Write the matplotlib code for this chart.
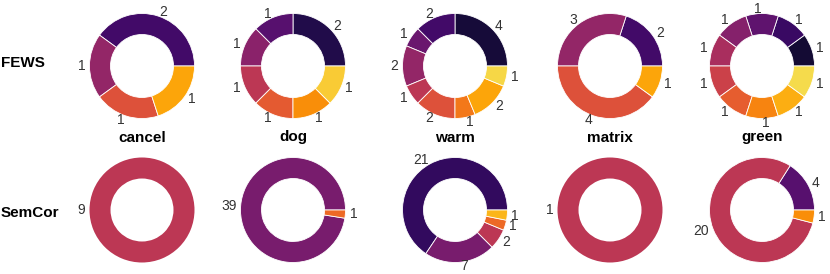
import matplotlib
matplotlib.use("Agg")
import matplotlib.pyplot as plt
import numpy as np

plt.rcParams['font.family'] = ['Liberation Sans', 'DejaVu Sans']

words = ["cancel", "dog", "warm", "matrix", "green"]
row_names = ["FEWS", "SemCor"]

fews_cancel = [2, 1, 1, 1]
fews_dog = [2, 1, 1, 1, 1, 1, 1]
fews_warm = [4, 2, 1, 2, 1, 2, 1, 2, 1]
fews_matrix = [2, 3, 4, 1]
fews_green = [1, 1, 1, 1, 1, 1, 1, 1, 1, 1]

semcor_cancel = [9]
semcor_dog = [39, 1]
semcor_warm = [21, 7, 2, 1, 1]
semcor_matrix = [1]
semcor_green = [4, 20, 1]

rows = [
    [fews_cancel, fews_dog, fews_warm, fews_matrix, fews_green],
    [semcor_cancel, semcor_dog, semcor_warm, semcor_matrix, semcor_green],
]

W, H = 830, 274
fig = plt.figure(figsize=(W / 100, H / 100), dpi=100)

col_cx = [142, 293, 455, 610, 762]
row_cy = [66, 210]
diam = 105

cmap = plt.get_cmap("inferno")

for r, row in enumerate(rows):
    for c, vals in enumerate(row):
        cx, cy = col_cx[c], row_cy[r]
        ax = fig.add_axes([(cx - diam / 2) / W, 1 - (cy + diam / 2) / H, diam / W, diam / H])
        n = len(vals)
        colors = cmap(np.linspace(0, 1, n + 2)[1:-1])
        lw = 0.6 if n > 1 else 0
        ax.pie(vals, labels=[str(v) for v in vals], colors=colors, startangle=0,
               labeldistance=1.08, radius=1.0,
               wedgeprops=dict(width=0.4, edgecolor="white", linewidth=lw),
               textprops=dict(fontsize=10, color="#333333"))
        ax.set_xlim(-1, 1)
        ax.set_ylim(-1, 1)
        ax.set_aspect("equal")
        ax.axis("off")

for c, w in enumerate(words):
    fig.text(col_cx[c] / W, 1 - 137.5 / H, w, ha="center", va="center",
             fontsize=11, fontweight="bold", color="black")

fig.text(1 / W, 1 - 63 / H, row_names[0], ha="left", va="center",
         fontsize=11, fontweight="bold", color="black")
fig.text(1 / W, 1 - 213 / H, row_names[1], ha="left", va="center",
         fontsize=11, fontweight="bold", color="black")

fig.savefig("out.png", dpi=100)
